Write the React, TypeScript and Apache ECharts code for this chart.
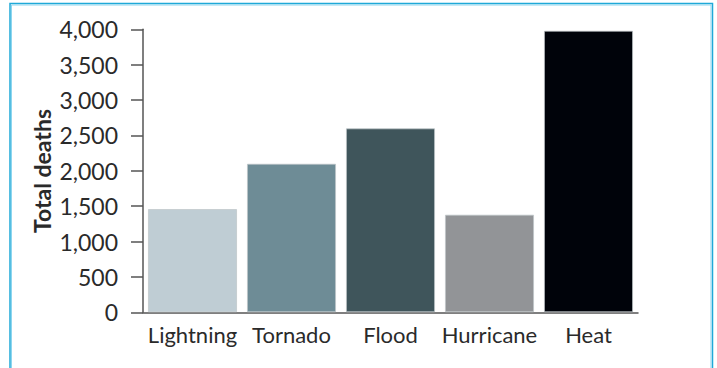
import React, { useEffect, useRef } from "react";
import * as echarts from "echarts";

const categories = ["Lightning", "Tornado", "Flood", "Hurricane", "Heat"];
const deaths = [1460, 2100, 2600, 1380, 3980];
const barColors = ["#BFCDD4", "#6E8C96", "#3F555B", "#929497", "#00030A"];
const yTicks = { min: 0, max: 4000, interval: 500 };
const yTitle = "Total deaths";

const FONT = "Lato, 'Noto Sans', sans-serif";

export default function App() {
  const ref = useRef<HTMLDivElement>(null);

  useEffect(() => {
    if (!ref.current) return;
    const chart = echarts.init(ref.current, undefined, { renderer: "svg" });
    chart.setOption({
      animation: false,
      backgroundColor: "#ffffff",
      grid: { left: 143, right: 79, top: 29.3, bottom: 55.7, containLabel: false },
      xAxis: {
        type: "category",
        data: categories,
        axisLine: { show: true, lineStyle: { color: "#555", width: 1.5 } },
        axisTick: { show: false },
        axisLabel: {
          interval: 0,
          color: "#2a2a2a",
          fontFamily: FONT,
          fontSize: 22,
          margin: 11,
        },
      },
      yAxis: {
        type: "value",
        min: yTicks.min,
        max: yTicks.max,
        interval: yTicks.interval,
        axisLine: { show: true, lineStyle: { color: "#555", width: 1.5 } },
        axisTick: { show: true, length: 12, lineStyle: { color: "#555", width: 1.5 } },
        splitLine: { show: false },
        axisLabel: {
          color: "#2a2a2a",
          fontFamily: FONT,
          fontSize: 23,
          margin: 25,
          formatter: (v: number) => v.toLocaleString("en-US"),
        },
      },
      graphic: [
        {
          type: "rect",
          shape: { x: 10, y: 3.5, width: 702.5, height: 400 },
          style: { fill: "none", stroke: "#1FA9D8", lineWidth: 1.5 },
          silent: true,
        },
        {
          type: "rect",
          shape: { x: 11.5, y: 5, width: 699.5, height: 400 },
          style: { fill: "none", stroke: "#8ED6EF", lineWidth: 1 },
          silent: true,
        },
        {
          type: "text",
          x: 42,
          y: 171,
          rotation: Math.PI / 2,
          style: {
            text: yTitle,
            font: `bold 23px ${FONT}`,
            fill: "#2a2a2a",
            align: "center",
            verticalAlign: "middle",
          },
        },
      ],
      series: [
        {
          type: "bar",
          barCategoryGap: "10%",
          data: deaths.map((v, i) => ({
            value: v,
            itemStyle: { color: barColors[i] },
          })),
          itemStyle: { borderColor: "rgba(190,196,200,0.7)", borderWidth: 1 },
        },
      ],
    });
    return () => chart.dispose();
  }, []);

  return (
    <div
      ref={ref}
      style={{ position: "fixed", left: 0, top: 0, width: 717, height: 368 }}
    />
  );
}
